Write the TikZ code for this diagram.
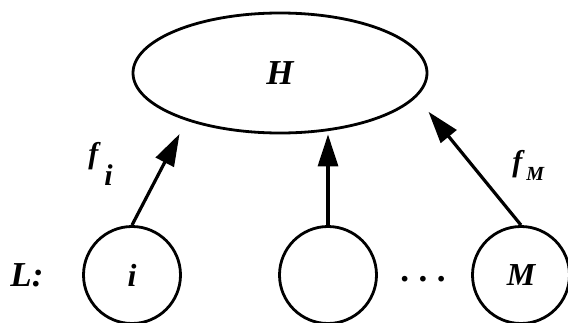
\documentclass[tikz,border=0pt]{standalone}
\usepackage{fontspec}
\setmainfont{Liberation Serif}
\usetikzlibrary{arrows.meta,shapes.geometric}

\tikzset{
    unit/.style = {circle, draw, line width=1.4pt, minimum size=48.5pt, inner sep=0pt,
                   font=\fontsize{16}{16}\selectfont\bfseries\itshape},
    link/.style = {line width=1.6pt, -{Triangle[length=16pt, width=10pt]}},
    lbl/.style  = {inner sep=0pt, font=\bfseries\itshape}
}

\begin{document}
\begin{tikzpicture}[x=0.5pt, y=-0.5pt]
            \useasboundingbox (0,0) rectangle (568,322);

            %upper level
            \node[ellipse, draw, line width=1.4pt, minimum width=147pt, minimum height=60pt, inner sep=0pt,
                  font=\fontsize{17.5}{17.5}\selectfont\bfseries\itshape] (H) at (280,73) {H};

            %lower level
            \node[lbl, font=\fontsize{17.5}{17.5}\selectfont\bfseries\itshape] (L) at (27,275) {L:};
            \node[unit] (li) at (132,275) {i};
            \node[unit] (lmid) at (328,275) {};
            \node[unit] (lM) at (521,275) {M};
            \node[lbl, anchor=base, font=\fontsize{17.5}{17.5}\selectfont\bfseries] (dots) at (423,281) {.\kern4.8pt.\kern4.8pt.};

            %mappings
            \draw[link, shorten >=7.5pt] (li.north) -- (H.207);
            \draw[link] (lmid.north) -- (lmid.north |- H.south);
            \draw[link, shorten >=9.5pt] (lM.north) -- (H.-10.6);

            \node[lbl, anchor=base west] (fi) at (88,163)
                {\fontsize{15}{15}\selectfont f\kern3pt\raisebox{-11pt}{i}};
            \node[lbl, anchor=base west] (fM) at (512,171)
                {\fontsize{15}{15}\selectfont f\kern2pt\raisebox{-4.5pt}{\fontsize{10}{10}\selectfont M}};
\end{tikzpicture}
\end{document}
